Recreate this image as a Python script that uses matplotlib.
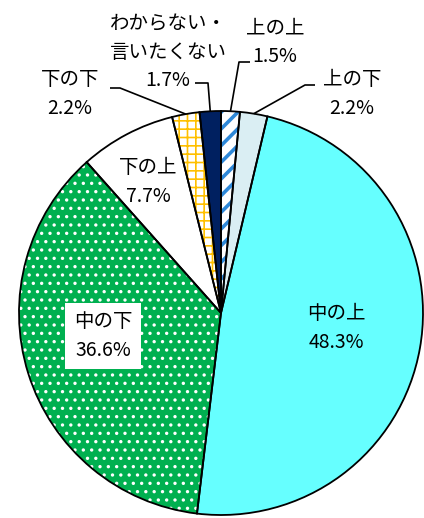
import numpy as np
import matplotlib.pyplot as plt
import matplotlib as mpl

mpl.rcParams['font.family'] = ['Noto Sans CJK JP', 'DejaVu Sans']
mpl.rcParams['hatch.linewidth'] = 1.2

labels = ['上の上', '上の下', '中の上', '中の下', '下の上', '下の下', 'わからない・\n言いたくない']
values = [1.5, 2.2, 48.3, 36.6, 7.7, 2.2, 1.7]
faces = ['white', '#DAEEF3', '#66FFFF', '#00B050', 'white', 'white', '#002060']
hatches = ['//', '', '', '..', '', '++', '']
hatch_colors = ['#2E88D8', 'black', 'black', 'white', 'black', '#FFC000', 'black']

W, H = 424, 518
cx, cy, R = 221, 313, 202  # pixel centre and radius


def px(x, y):
    return (x - cx) / R, (cy - y) / R


fig = plt.figure(figsize=(W / 100, H / 100), dpi=100)
ax = fig.add_axes([0, 0, 1, 1])

# filled wedges with hatches (edgecolor drives the hatch colour)
wedges, _ = ax.pie(values, startangle=90, counterclock=False, radius=1,
                   colors=faces, normalize=True)
for w, h, hc in zip(wedges, hatches, hatch_colors):
    w.set_hatch(h)
    w.set_edgecolor(hc)
    w.set_linewidth(0)
    if h == '//' and hasattr(w, 'set_hatch_linewidth'):
        w.set_hatch_linewidth(2.6)

# black outlines on top
outl, _ = ax.pie(values, startangle=90, counterclock=False, radius=1,
                 colors=['none'] * len(values), normalize=True,
                 wedgeprops=dict(edgecolor='black', linewidth=1.3))

ax.set_aspect('auto')
ax.set_xlim(-cx / R, (W - cx) / R)
ax.set_ylim((cy - H) / R, cy / R)
ax.axis('off')

fs = 14
txt = dict(ha='center', va='center', fontsize=fs, linespacing=1.45, color='black')

# inside labels
ax.text(*px(336, 328), f'{labels[2]}\n{values[2]}%', **txt)
ax.text(*px(148, 182), f'{labels[4]}\n{values[4]}%', **txt)
ax.text(*px(103, 336), f'{labels[3]}\n{values[3]}%', **txt,
        bbox=dict(boxstyle='square,pad=0.45', facecolor='white', edgecolor='none'))

# outside labels with leader lines: (index, text xy, elbow xy, end xy)
outside = [
    (0, (275, 42), (239, 62), (250, 62)),
    (1, (352, 94), (305, 85), (315, 85)),
    (6, (168, 52), (208, 83), (195, 83)),
    (5, (70, 94), (120, 88), (110, 88)),
]
for i, tpos, elbow, end in outside:
    w = wedges[i]
    mid = np.deg2rad((w.theta1 + w.theta2) / 2)
    sx, sy = np.cos(mid), np.sin(mid)
    ex, ey = px(*elbow)
    fx, fy = px(*end)
    ax.plot([sx, ex, fx], [sy, ey, fy], color='black', lw=1.2, solid_capstyle='butt')
    ax.text(*px(*tpos), f'{labels[i]}\n{values[i]}%', **txt)

plt.savefig('out.png', dpi=100)
plt.close()
